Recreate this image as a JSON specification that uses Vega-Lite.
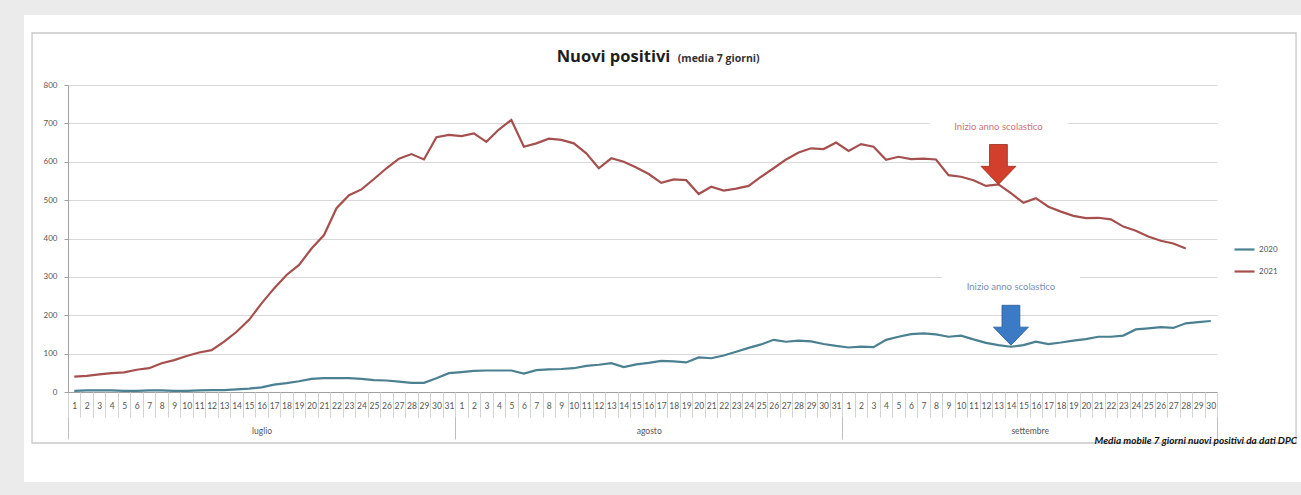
{
  "$schema": "https://vega.github.io/schema/vega-lite/v6.json",
  "width": 1149,
  "height": 307,
  "autosize": {"type": "none"},
  "padding": {"left": 68, "top": 85, "right": 84, "bottom": 103},
  "background": "white",
  "config": {
    "view": {"stroke": null},
    "axis": {"labelFont": "Lato", "titleFont": "Lato"},
    "legend": {"labelFont": "Lato"},
    "text": {"font": "Lato"}
  },
  "title": {
    "text": "Nuovi positivi",
    "frame": "group",
    "anchor": "middle",
    "dx": -29,
    "offset": -124,
    "font": "Open Sans",
    "fontSize": 16.5,
    "fontWeight": "bold",
    "color": "#1e1e1e",
    "baseline": "alphabetic"
  },
  "datasets": {
    "serie": [
      {"giorno": 1, "2020": 3, "2021": 40}, {"giorno": 2, "2020": 4, "2021": 42}, {"giorno": 3, "2020": 4, "2021": 46},
      {"giorno": 4, "2020": 4, "2021": 49}, {"giorno": 5, "2020": 3, "2021": 51}, {"giorno": 6, "2020": 3, "2021": 58},
      {"giorno": 7, "2020": 4, "2021": 62}, {"giorno": 8, "2020": 4, "2021": 75}, {"giorno": 9, "2020": 3, "2021": 83},
      {"giorno": 10, "2020": 3, "2021": 94}, {"giorno": 11, "2020": 4, "2021": 103}, {"giorno": 12, "2020": 5, "2021": 109},
      {"giorno": 13, "2020": 5, "2021": 131}, {"giorno": 14, "2020": 7, "2021": 157}, {"giorno": 15, "2020": 9, "2021": 188},
      {"giorno": 16, "2020": 12, "2021": 231}, {"giorno": 17, "2020": 19, "2021": 270}, {"giorno": 18, "2020": 23, "2021": 305},
      {"giorno": 19, "2020": 28, "2021": 331}, {"giorno": 20, "2020": 34, "2021": 374}, {"giorno": 21, "2020": 36, "2021": 409},
      {"giorno": 22, "2020": 36, "2021": 479}, {"giorno": 23, "2020": 36, "2021": 513}, {"giorno": 24, "2020": 34, "2021": 528},
      {"giorno": 25, "2020": 31, "2021": 555}, {"giorno": 26, "2020": 30, "2021": 583}, {"giorno": 27, "2020": 27, "2021": 608},
      {"giorno": 28, "2020": 24, "2021": 620}, {"giorno": 29, "2020": 24, "2021": 606}, {"giorno": 30, "2020": 36, "2021": 664},
      {"giorno": 31, "2020": 49, "2021": 670},
      {"giorno": 32, "2020": 52, "2021": 667}, {"giorno": 33, "2020": 55, "2021": 674}, {"giorno": 34, "2020": 56, "2021": 652},
      {"giorno": 35, "2020": 56, "2021": 684}, {"giorno": 36, "2020": 56, "2021": 709}, {"giorno": 37, "2020": 48, "2021": 639},
      {"giorno": 38, "2020": 57, "2021": 648}, {"giorno": 39, "2020": 59, "2021": 660}, {"giorno": 40, "2020": 60, "2021": 657},
      {"giorno": 41, "2020": 62, "2021": 648}, {"giorno": 42, "2020": 68, "2021": 622}, {"giorno": 43, "2020": 71, "2021": 583},
      {"giorno": 44, "2020": 75, "2021": 609}, {"giorno": 45, "2020": 65, "2021": 600}, {"giorno": 46, "2020": 72, "2021": 585},
      {"giorno": 47, "2020": 76, "2021": 568}, {"giorno": 48, "2020": 81, "2021": 545}, {"giorno": 49, "2020": 80, "2021": 554},
      {"giorno": 50, "2020": 77, "2021": 552}, {"giorno": 51, "2020": 90, "2021": 516}, {"giorno": 52, "2020": 88, "2021": 535},
      {"giorno": 53, "2020": 95, "2021": 525}, {"giorno": 54, "2020": 105, "2021": 530}, {"giorno": 55, "2020": 115, "2021": 537},
      {"giorno": 56, "2020": 124, "2021": 561}, {"giorno": 57, "2020": 136, "2021": 583}, {"giorno": 58, "2020": 131, "2021": 606},
      {"giorno": 59, "2020": 134, "2021": 624}, {"giorno": 60, "2020": 132, "2021": 635}, {"giorno": 61, "2020": 125, "2021": 633},
      {"giorno": 62, "2020": 120, "2021": 650},
      {"giorno": 63, "2020": 116, "2021": 628}, {"giorno": 64, "2020": 118, "2021": 646}, {"giorno": 65, "2020": 117, "2021": 639},
      {"giorno": 66, "2020": 136, "2021": 605}, {"giorno": 67, "2020": 144, "2021": 613}, {"giorno": 68, "2020": 151, "2021": 607},
      {"giorno": 69, "2020": 153, "2021": 608}, {"giorno": 70, "2020": 150, "2021": 606}, {"giorno": 71, "2020": 144, "2021": 565},
      {"giorno": 72, "2020": 147, "2021": 561}, {"giorno": 73, "2020": 137, "2021": 552}, {"giorno": 74, "2020": 128, "2021": 537},
      {"giorno": 75, "2020": 122, "2021": 541}, {"giorno": 76, "2020": 118, "2021": 518}, {"giorno": 77, "2020": 122, "2021": 493},
      {"giorno": 78, "2020": 131, "2021": 505}, {"giorno": 79, "2020": 125, "2021": 483}, {"giorno": 80, "2020": 129, "2021": 470},
      {"giorno": 81, "2020": 134, "2021": 459}, {"giorno": 82, "2020": 138, "2021": 453}, {"giorno": 83, "2020": 144, "2021": 454},
      {"giorno": 84, "2020": 144, "2021": 450}, {"giorno": 85, "2020": 147, "2021": 431}, {"giorno": 86, "2020": 163, "2021": 420},
      {"giorno": 87, "2020": 166, "2021": 405}, {"giorno": 88, "2020": 169, "2021": 394}, {"giorno": 89, "2020": 167, "2021": 387},
      {"giorno": 90, "2020": 179, "2021": 374}, {"giorno": 91, "2020": 182}, {"giorno": 92, "2020": 185}
    ],
    "annotazioni": [
      {"anno": "2021", "giorno": 75, "valore": 541, "testo": "Inizio anno scolastico", "quota_testo": 690},
      {"anno": "2020", "giorno": 76, "valore": 122, "testo": "Inizio anno scolastico", "quota_testo": 274}
    ]
  },
  "layer": [
    {
      "data": {"values": [{}]},
      "mark": {"type": "rect", "filled": false, "stroke": "#ebebeb", "strokeWidth": 60},
      "encoding": {
        "x": {"datum": -5.425, "type": "quantitative", "scale": {"domain": [0.5, 92.5], "nice": false, "zero": false}, "axis": null},
        "x2": {"datum": 102.35},
        "y": {"datum": 1060.6, "type": "quantitative", "scale": {"domain": [0, 800], "nice": false}, "axis": null},
        "y2": {"datum": -312.7}
      }
    },
    {
      "data": {"values": [{}]},
      "mark": {"type": "rect", "filled": false, "stroke": "#c8c8c8", "strokeWidth": 1.3},
      "encoding": {
        "x": {"datum": -2.38, "type": "quantitative", "scale": {"domain": [0.5, 92.5], "nice": false, "zero": false}, "axis": null},
        "x2": {"datum": 98.83},
        "y": {"datum": 935.5, "type": "quantitative", "scale": {"domain": [0, 800], "nice": false}, "axis": null},
        "y2": {"datum": -132.9}
      }
    },
    {
      "data": {"name": "annotazioni"},
      "mark": {"type": "rect", "fill": "white", "width": 138, "height": 24},
      "encoding": {
        "x": {
          "field": "giorno", "type": "quantitative",
          "scale": {"domain": [0.5, 92.5], "nice": false, "zero": false},
          "axis": {
            "orient": "bottom", "values": [0.5, 31.5, 62.5, 92.5], "labels": false, "ticks": true,
            "tickSize": 47, "tickColor": "#bdbdbd", "tickWidth": 1, "domain": false, "grid": false, "title": null
          }
        },
        "y": {"field": "quota_testo", "type": "quantitative", "scale": {"domain": [0, 800], "nice": false}, "axis": null}
      }
    },
    {
      "data": {"name": "serie"},
      "transform": [{"fold": ["2020", "2021"], "as": ["anno", "nuovi_positivi"]}],
      "mark": {"type": "line", "strokeWidth": 2.2, "interpolate": "linear"},
      "encoding": {
        "x": {
          "field": "giorno", "type": "quantitative",
          "scale": {"domain": [0.5, 92.5], "nice": false, "zero": false},
          "axis": {
            "orient": "bottom",
            "values": [1,2,3,4,5,6,7,8,9,10,11,12,13,14,15,16,17,18,19,20,21,22,23,24,25,26,27,28,29,30,31,32,33,34,35,36,37,38,39,40,41,42,43,44,45,46,47,48,49,50,51,52,53,54,55,56,57,58,59,60,61,62,63,64,65,66,67,68,69,70,71,72,73,74,75,76,77,78,79,80,81,82,83,84,85,86,87,88,89,90,91,92],
            "labelExpr": "datum.value <= 31 ? datum.value : (datum.value <= 62 ? datum.value - 31 : datum.value - 62)",
            "ticks": false, "grid": false, "domain": true, "domainColor": "#a0a0a0", "domainWidth": 1,
            "labelFontSize": 8.5, "labelColor": "#555555", "labelPadding": 9,
            "labelOverlap": false, "labelFlush": false, "labelBound": false, "title": null
          }
        },
        "y": {
          "field": "nuovi_positivi", "type": "quantitative",
          "scale": {"domain": [0, 800], "nice": false},
          "axis": {
            "orient": "left",
            "values": [0, 100, 200, 300, 400, 500, 600, 700, 800],
            "grid": true, "gridColor": "#d9d9d9", "gridWidth": 1,
            "domain": true, "domainColor": "#a0a0a0",
            "ticks": true, "tickSize": 4, "tickColor": "#a0a0a0",
            "labelFontSize": 8, "labelColor": "#555555", "labelPadding": 7, "title": null
          }
        },
        "color": {
          "field": "anno", "type": "nominal",
          "scale": {"domain": ["2020", "2021"], "range": ["#4b8090", "#a5504f"]},
          "legend": {
            "orient": "none", "legendX": 1165, "legendY": 153, "title": null,
            "symbolType": "stroke", "symbolSize": 400, "symbolStrokeWidth": 2.2,
            "labelFontSize": 8, "labelColor": "#555555", "rowPadding": 6, "padding": 0, "labelOffset": 3
          }
        }
      }
    },
    {
      "data": {"name": "annotazioni"},
      "mark": {
        "type": "point", "filled": true, "opacity": 1, "size": 1444, "strokeWidth": 0.8,
        "shape": "M-0.47,-2.1 L0.47,-2.1 L0.47,-0.95 L0.92,-0.95 L0,0 L-0.92,-0.95 L-0.47,-0.95 Z"
      },
      "encoding": {
        "x": {
          "field": "giorno", "type": "quantitative",
          "scale": {"domain": [0.5, 92.5], "nice": false, "zero": false},
          "axis": {
            "orient": "bottom",
            "values": [0.5,1.5,2.5,3.5,4.5,5.5,6.5,7.5,8.5,9.5,10.5,11.5,12.5,13.5,14.5,15.5,16.5,17.5,18.5,19.5,20.5,21.5,22.5,23.5,24.5,25.5,26.5,27.5,28.5,29.5,30.5,31.5,32.5,33.5,34.5,35.5,36.5,37.5,38.5,39.5,40.5,41.5,42.5,43.5,44.5,45.5,46.5,47.5,48.5,49.5,50.5,51.5,52.5,53.5,54.5,55.5,56.5,57.5,58.5,59.5,60.5,61.5,62.5,63.5,64.5,65.5,66.5,67.5,68.5,69.5,70.5,71.5,72.5,73.5,74.5,75.5,76.5,77.5,78.5,79.5,80.5,81.5,82.5,83.5,84.5,85.5,86.5,87.5,88.5,89.5,90.5,91.5,92.5],
            "labels": false, "ticks": true, "tickSize": 25, "tickColor": "#d3d3d3", "tickWidth": 1,
            "domain": false, "grid": false, "title": null
          }
        },
        "y": {"field": "valore", "type": "quantitative", "scale": {"domain": [0, 800], "nice": false}, "axis": null},
        "fill": {"condition": {"test": "datum.anno === '2021'", "value": "#d23f2c"}, "value": "#3b7bc6"},
        "stroke": {"condition": {"test": "datum.anno === '2021'", "value": "#9e2a1c"}, "value": "#2a5c99"}
      }
    },
    {
      "data": {"name": "annotazioni"},
      "mark": {"type": "text", "align": "center", "baseline": "middle", "fontSize": 9.5, "font": "Lato"},
      "encoding": {
        "x": {
          "field": "giorno", "type": "quantitative",
          "scale": {"domain": [0.5, 92.5], "nice": false, "zero": false},
          "axis": {
            "orient": "bottom", "values": [16, 47, 77.5],
            "labelExpr": "datum.value < 31 ? 'luglio' : (datum.value < 62 ? 'agosto' : 'settembre')",
            "ticks": false, "domain": false, "grid": false, "labelPadding": 34,
            "labelFontSize": 8.5, "labelColor": "#555555", "labelOverlap": false, "title": null
          }
        },
        "y": {"field": "quota_testo", "type": "quantitative", "scale": {"domain": [0, 800], "nice": false}, "axis": null},
        "text": {"field": "testo"},
        "color": {"condition": {"test": "datum.anno === '2021'", "value": "#d27479"}, "value": "#7890b6"}
      }
    },
    {
      "data": {"values": [{}]},
      "mark": {"type": "text", "text": "(media 7 giorni)", "align": "center", "baseline": "alphabetic", "fontSize": 10.5, "fontWeight": "bold", "font": "Open Sans", "color": "#333333"},
      "encoding": {
        "x": {"datum": 52.6, "type": "quantitative", "scale": {"domain": [0.5, 92.5], "nice": false, "zero": false}, "axis": null},
        "y": {"datum": 860, "type": "quantitative", "scale": {"domain": [0, 800], "nice": false}, "axis": null}
      }
    },
    {
      "data": {"values": [{}]},
      "mark": {"type": "text", "text": "Media mobile 7 giorni nuovi positivi da dati DPC", "align": "right", "baseline": "alphabetic", "fontSize": 10, "fontWeight": "bold", "fontStyle": "italic", "font": "Lato", "color": "#111111"},
      "encoding": {
        "x": {"datum": 98.9, "type": "quantitative", "scale": {"domain": [0.5, 92.5], "nice": false, "zero": false}, "axis": null},
        "y": {"datum": -135.5, "type": "quantitative", "scale": {"domain": [0, 800], "nice": false}, "axis": null}
      }
    }
  ],
  "resolve": {"axis": {"x": "independent", "y": "independent"}}
}
